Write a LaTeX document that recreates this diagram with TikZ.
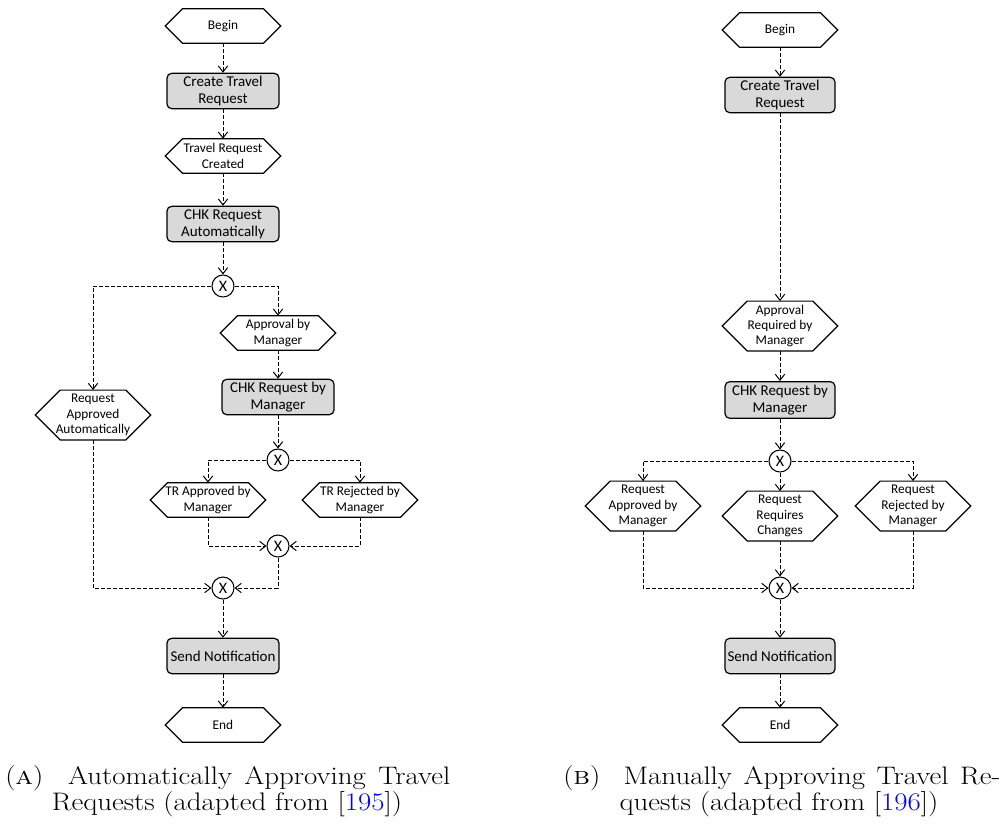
\documentclass[tikz,border=0pt]{standalone}
\usepackage{fontspec}
\usepackage{xcolor}
\usepackage{graphicx}
\usetikzlibrary{arrows.meta,calc}
\newfontfamily\carlito{Carlito}
\definecolor{taskgray}{RGB}{217,217,217}
\newcommand{\taskfont}{\carlito\fontsize{11.25}{12.75}\selectfont}
\newcommand{\eventfont}{\carlito\fontsize{10}{11.6}\selectfont}
\newcommand{\gatefont}{\carlito\fontsize{12}{12}\selectfont}
\newcommand{\capfont}{\fontsize{19}{19.5}\selectfont}
\newcommand{\capline}[1]{\scalebox{1.14}[1]{#1}}
\tikzset{
  task/.style={rectangle, rounded corners=3.5pt, draw, line width=0.9pt,
    fill=taskgray, minimum width=84pt, minimum height=26.5pt, inner sep=0pt,
    align=center, font=\taskfont},
  event/.style={rectangle, minimum width=86.25pt, minimum height=25.5pt,
    inner sep=0pt, align=center, font=\eventfont,
    append after command={\pgfextra{\draw[line width=0.85pt, line join=miter]
      (\tikzlastnode.west)
      -- ($(\tikzlastnode.north west)!1!90:(\tikzlastnode.west)$)
      -- ($(\tikzlastnode.north east)!1!-90:(\tikzlastnode.east)$)
      -- (\tikzlastnode.east)
      -- ($(\tikzlastnode.south east)!1!90:(\tikzlastnode.east)$)
      -- ($(\tikzlastnode.south west)!1!-90:(\tikzlastnode.west)$)
      -- cycle;}}},
  tallevent/.style={event, minimum height=37pt},
  gate/.style={circle, draw, line width=0.8pt, minimum size=16.5pt,
    inner sep=0pt, font=\gatefont},
  flow/.style={draw, line width=0.75pt, dash pattern=on 3pt off 1.5pt,
    -{Straight Barb[length=4.5pt,width=7pt]}},
}
\begin{document}
\begin{tikzpicture}[x=0.75pt, y=-0.75pt]
\useasboundingbox (0,0) rectangle (1006,824);

% ---------- (a) automatic approval ----------
\node[event] (lbegin) at (223,26) {Begin};
\node[task] (lcreate) at (223,91) {Create Travel\\Request};
\node[event] (lcreated) at (223,156) {Travel Request\\Created};
\node[task] (lchk) at (223,224) {CHK Request\\Automatically};
\node[gate] (lg1) at (223,286) {X};
\node[event] (lappr) at (278,333) {Approval by\\Manager};
\node[task] (lchkm) at (278,397) {CHK Request by\\Manager};
\node[gate] (lg2) at (278,460) {X};
\node[tallevent] (lauto) at (93,415) {Request\\Approved\\Automatically};
\node[event] (ltra) at (208,500) {TR Approved by\\Manager};
\node[event] (ltrr) at (360,500) {TR Rejected by\\Manager};
\node[gate] (lg3) at (278,546) {X};
\node[gate] (lg4) at (223,588) {X};
\node[task] (lsend) at (223,656) {Send Notification};
\node[event] (lend) at (223,725) {End};

\draw[flow] (lbegin) -- (lcreate);
\draw[flow] (lcreate) -- (lcreated);
\draw[flow] (lcreated) -- (lchk);
\draw[flow] (lchk) -- (lg1);
\draw[flow] (lg1.west) -| (lauto.north);
\draw[flow] (lg1.east) -| (lappr.north);
\draw[flow] (lappr) -- (lchkm);
\draw[flow] (lchkm) -- (lg2);
\draw[flow] (lg2.west) -| (ltra.north);
\draw[flow] (lg2.east) -| (ltrr.north);
\draw[flow] (ltra.south) |- (lg3.west);
\draw[flow] (ltrr.south) |- (lg3.east);
\draw[flow] (lg3.south) |- (lg4.east);
\draw[flow] (lauto.south) |- (lg4.west);
\draw[flow] (lg4) -- (lsend);
\draw[flow] (lsend) -- (lend);

% ---------- (b) manual approval ----------
\node[event] (rbegin) at (780,30) {Begin};
\node[task, minimum width=82.5pt] (rcreate) at (780,95) {Create Travel\\Request};
\node[tallevent] (rappr) at (780,326) {Approval\\Required by\\Manager};
\node[task, minimum width=82.5pt, minimum height=27.5pt] (rchk) at (780,400) {CHK Request by\\Manager};
\node[gate] (rg1) at (780,461) {X};
\node[tallevent] (rappd) at (643,506) {Request\\Approved by\\Manager};
\node[tallevent] (rchg) at (780,516) {Request\\Requires\\Changes};
\node[tallevent] (rrej) at (913,506) {Request\\Rejected by\\Manager};
\node[gate] (rg2) at (780,588) {X};
\node[task, minimum width=82.5pt] (rsend) at (780,656) {Send Notification};
\node[event] (rend) at (780,725) {End};

\draw[flow] (rbegin) -- (rcreate);
\draw[flow] (rcreate) -- (rappr);
\draw[flow] (rappr) -- (rchk);
\draw[flow] (rchk) -- (rg1);
\draw[flow] (rg1.west) -| (rappd.north);
\draw[flow] (rg1) -- (rchg);
\draw[flow] (rg1.east) -| (rrej.north);
\draw[flow] (rappd.south) |- (rg2.west);
\draw[flow] (rchg) -- (rg2);
\draw[flow] (rrej.south) |- (rg2.east);
\draw[flow] (rg2) -- (rsend);
\draw[flow] (rsend) -- (rend);

% ---------- captions ----------
\node[anchor=base west, inner sep=0pt] (capa1) at (5,784)
  {\capfont\capline{\hbox to 292.8pt{(\textsc{a})\ \ Automatically\ Approving\ Travel}}};
\node[anchor=base, inner sep=0pt] (capa2) at (227,810)
  {\capfont\capline{Requests (adapted from [\textcolor{blue}{195}])}};
\node[anchor=base west, inner sep=0pt] (capb1) at (563,784)
  {\capfont\capline{\hbox to 287.5pt{(\textsc{b})\ \ Manually\ Approving\ Travel\ Re-}}};
\node[anchor=base, inner sep=0pt] (capb2) at (779,810)
  {\capfont\capline{quests (adapted from [\textcolor{blue}{196}])}};
\end{tikzpicture}
\end{document}
